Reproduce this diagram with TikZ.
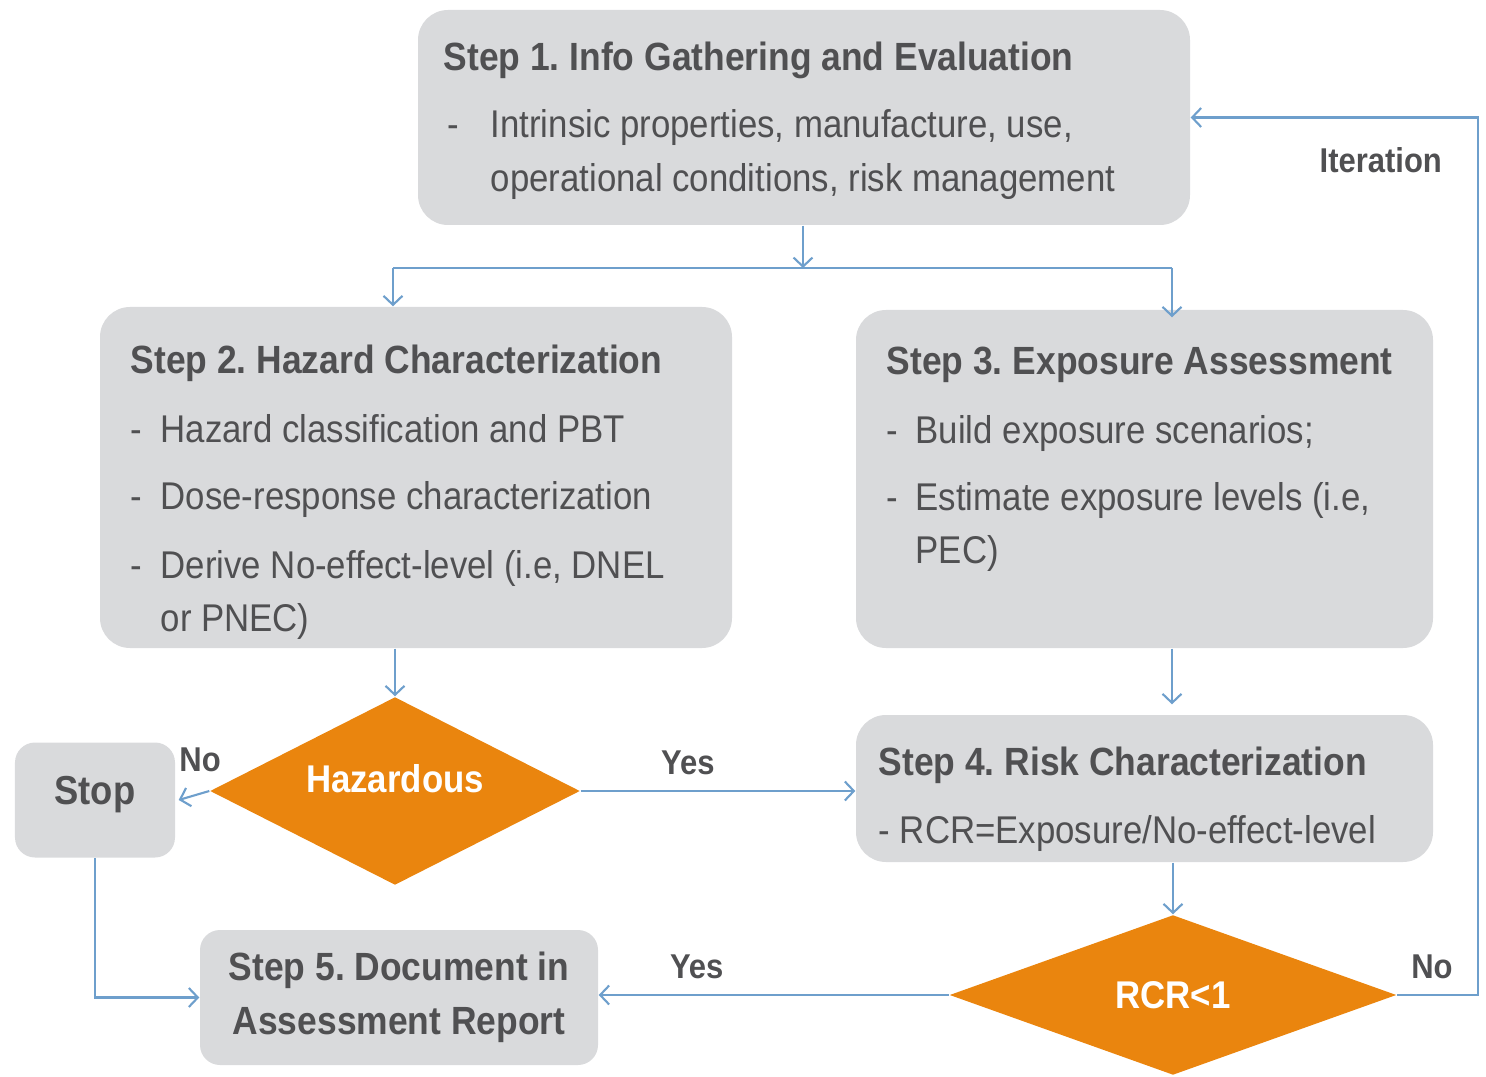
\documentclass[tikz,border=0pt]{standalone}
\usepackage{fontspec}
\setmainfont{Liberation Sans}[FakeStretch=0.9]
\usepackage{tikz}
\usetikzlibrary{shapes.geometric,arrows.meta}
\frenchspacing

\definecolor{boxgray}{HTML}{D9DADC}
\definecolor{txtgray}{HTML}{505052}
\definecolor{flowblue}{HTML}{6E9FCC}
\definecolor{decorange}{HTML}{EA850E}

\tikzset{
  stepbox/.style={fill=boxgray, rounded corners=0.3cm, inner sep=0pt},
  txt/.style={inner sep=0pt, align=left, text=txtgray, font=\fontsize{11}{15}\selectfont},
  decision/.style={diamond, aspect=2, fill=decorange, inner sep=0pt, text=white,
    font=\fontsize{11}{13}\selectfont\bfseries},
  flow/.style={draw=flowblue, line width=0.6pt, -{Straight Barb[length=0.9mm,width=1.9mm]}},
  lbl/.style={text=txtgray, font=\fontsize{9.8}{12}\selectfont\bfseries, inner sep=2pt}
}
\newcommand{\hd}[1]{{\fontsize{11.2}{15}\selectfont\bfseries #1}}

\begin{document}
\begin{tikzpicture}
    \useasboundingbox (0,0) rectangle (14.86,-10.77);

    % Boxes
    \node[stepbox, minimum width=7.72cm, minimum height=2.15cm] (step1) at (8.04,-1.175) {};
    \node[stepbox, minimum width=6.32cm, minimum height=3.41cm] (step2) at (4.16,-4.775) {};
    \node[stepbox, minimum width=5.77cm, minimum height=3.38cm] (step3) at (11.445,-4.79) {};
    \node[stepbox, minimum width=5.77cm, minimum height=1.47cm] (step4) at (11.445,-7.885) {};
    \node[stepbox, rounded corners=0.2cm, minimum width=1.60cm, minimum height=1.15cm,
          text=txtgray, font=\fontsize{11.5}{15}\selectfont\bfseries] (stop) at (0.95,-8.0) {\raisebox{0.2cm}{Stop}};
    \node[stepbox, rounded corners=0.2cm, minimum width=3.98cm, minimum height=1.35cm,
          align=center, text=txtgray, font=\fontsize{11.2}{15.3}\selectfont\bfseries] (step5) at (3.99,-9.975)
          {Step 5. Document in\\Assessment Report};

    % Decisions
    \node[decision, minimum width=3.70cm, minimum height=1.88cm] (hazard) at (3.95,-7.91) {\raisebox{0.25cm}{Hazardous}};
    \node[decision, minimum width=4.47cm, minimum height=1.60cm] (rcr) at (11.73,-9.95) {RCR<1};

    % Box texts
    \node[txt, anchor=north west] (step1txt) at (4.43,-0.41)
      {\hd{Step 1. Info Gathering and Evaluation}\\[4.2pt]
       \hspace*{0.04cm}\makebox[0.43cm][l]{-}Intrinsic properties, manufacture, use,\\[0.4pt]
       \hspace*{0.47cm}operational conditions, risk management};
    \node[txt, anchor=north west] (step2txt) at (1.30,-3.44)
      {\hd{Step 2. Hazard Characterization}\\[4.6pt]
       \makebox[0.30cm][l]{-}Hazard classification and PBT\\[4.3pt]
       \makebox[0.30cm][l]{-}Dose-response characterization\\[4.6pt]
       \makebox[0.30cm][l]{-}Derive No-effect-level (i.e, DNEL\\
       \hspace*{0.30cm}or PNEC)};
    \node[txt, anchor=north west] (step3txt) at (8.86,-3.46)
      {\hd{Step 3. Exposure Assessment}\\[4.6pt]
       \makebox[0.29cm][l]{-}Build exposure scenarios;\\[4.3pt]
       \makebox[0.29cm][l]{-}Estimate exposure levels (i.e,\\
       \hspace*{0.29cm}PEC)};
    \node[txt, anchor=north west] (step4txt) at (8.78,-7.46)
      {\hd{Step 4. Risk Characterization}\\[4.3pt]
       - RCR=Exposure/No-effect-level};

    % Connectors
    \coordinate (split) at (8.03,-2.68);
    \coordinate (splitl) at (3.93,-2.68);
    \coordinate (splitr) at (11.72,-2.68);
    \coordinate (back) at (14.78,-9.95);
    \draw[flow] (split |- step1.south) -- (split);
    \draw[flow, -] (splitl) -- (splitr);
    \draw[flow] (splitl) -- (splitl |- step2.north);
    \draw[flow] (splitr) -- ([yshift=-0.08cm]splitr |- step3.north);
    \draw[flow] (hazard.north |- step2.south) -- (hazard.north);
    \draw[flow] (splitr |- step3.south) -- ([yshift=0.1cm]splitr |- step4.north);
    \draw[flow] (rcr.north |- step4.south) -- (rcr.north);
    \draw[flow] (hazard.west) -- node[lbl, above, pos=0.3, yshift=0.14cm] {No} ([xshift=0.03cm]stop.east);
    \draw[flow] (hazard.east) -- node[lbl, above, pos=0.39, yshift=0.08cm] {Yes} (hazard.east -| step4.west);
    \draw[flow] (rcr.west) -- node[lbl, above, pos=0.72, yshift=0.08cm] {Yes} (rcr.west -| step5.east);
    \draw[flow] (rcr.east) -- node[lbl, above, pos=0.43, yshift=0.08cm] {No} (back)
      |- node[lbl, pos=0.5, anchor=north east, xshift=-0.28cm, yshift=-0.22cm] {Iteration} (step1.east);
    \draw[flow] (stop.south) |- (step5.west);
\end{tikzpicture}
\end{document}
